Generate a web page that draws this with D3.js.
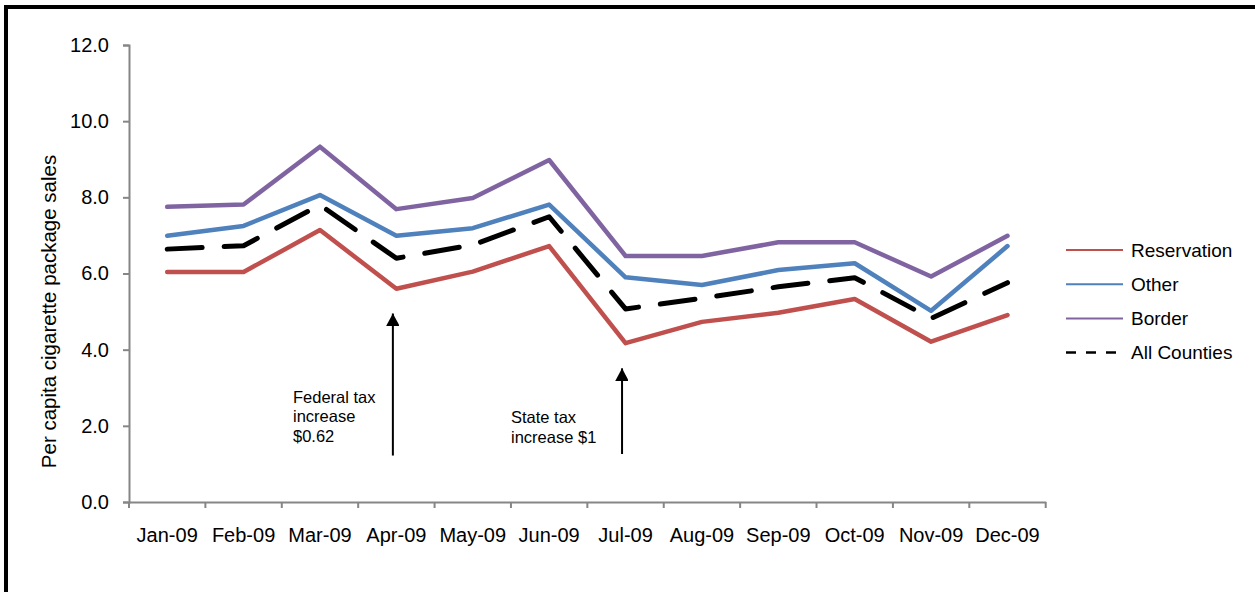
<!DOCTYPE html>
<html>
<head>
<meta charset="utf-8">
<script src="https://cdn.jsdelivr.net/npm/d3@7"></script>
<style>
  html, body { margin: 0; padding: 0; background: #fff; }
  svg { display: block; font-family: "Liberation Sans", Arial, sans-serif; }
</style>
</head>
<body>
<svg id="chart" width="1255" height="592"></svg>
<script>
// Monthly per capita cigarette package sales, 2009
const months = ["Jan-09","Feb-09","Mar-09","Apr-09","May-09","Jun-09",
                "Jul-09","Aug-09","Sep-09","Oct-09","Nov-09","Dec-09"];
const reservation = [6.04, 6.04, 7.14, 5.60, 6.05, 6.72, 4.17, 4.73, 4.97, 5.33, 4.21, 4.91];
const other       = [6.99, 7.25, 8.06, 6.99, 7.19, 7.81, 5.90, 5.70, 6.09, 6.27, 5.02, 6.72];
const border      = [7.75, 7.81, 9.33, 7.69, 7.98, 8.98, 6.46, 6.46, 6.82, 6.82, 5.92, 6.99];
const allCounties = [6.64, 6.73, 7.80, 6.40, 6.75, 7.49, 5.07, 5.35, 5.65, 5.89, 4.82, 5.76];
const yTicks = [0, 2, 4, 6, 8, 10, 12];

const seriesNames = ["Reservation", "Other", "Border", "All Counties"];

// Tax-increase annotations: month, arrow base and tip values, label lines
const annotMonths = ["Apr-09", "Jul-09"];
const annotBase   = [1.22, 1.26];
const annotTip    = [4.95, 3.51];
const annotLabels = [["Federal tax", "increase", "$0.62"], ["State tax", "increase $1"]];

const series = [
  { name: seriesNames[0], values: reservation, color: "#C0504D", dash: null },
  { name: seriesNames[1], values: other,       color: "#4F81BD", dash: null },
  { name: seriesNames[2], values: border,      color: "#8064A2", dash: null },
  { name: seriesNames[3], values: allCounties, color: "#000000", dash: "35,22" }
];

const svg = d3.select("#chart");
const W = 1255, H = 592;
const plot = { left: 129, right: 1045.7, top: 45, bottom: 502 };

svg.append("rect").attr("width", W).attr("height", H).attr("fill", "#fff");

// frame (top and left edges)
svg.append("rect").attr("x", 4).attr("y", 5).attr("width", W - 4).attr("height", 4).attr("fill", "#000");
svg.append("rect").attr("x", 4).attr("y", 5).attr("width", 4).attr("height", H - 5).attr("fill", "#000");

const x = d3.scaleBand().domain(months).range([plot.left, plot.right]).padding(0);
const y = d3.scaleLinear().domain([0, 12]).range([plot.bottom, plot.top]);
const cx = m => x(m) + x.bandwidth() / 2;

const axisColor = "#868686";

// y axis
const yAxis = svg.append("g")
  .attr("transform", `translate(${plot.left},0)`)
  .call(d3.axisLeft(y).tickValues(yTicks).tickFormat(d3.format(".1f")).tickSize(6).tickPadding(14));
yAxis.select(".domain").attr("stroke", axisColor).attr("stroke-width", 2);
yAxis.selectAll(".tick line").attr("stroke", axisColor).attr("stroke-width", 2);
yAxis.selectAll(".tick text").attr("fill", "#000").attr("font-size", 20)
  .attr("font-family", "Liberation Sans, Arial, sans-serif");

// x axis: labels centred in each band, tick marks on band edges
const xAxis = svg.append("g")
  .attr("transform", `translate(0,${plot.bottom})`)
  .call(d3.axisBottom(x).tickSize(0).tickPadding(26));
xAxis.select(".domain").attr("stroke", axisColor).attr("stroke-width", 2);
xAxis.selectAll(".tick text").attr("fill", "#000").attr("font-size", 20)
  .attr("font-family", "Liberation Sans, Arial, sans-serif");
const edges = months.map(m => x(m)).concat([plot.right]);
xAxis.selectAll("line.edge").data(edges).join("line")
  .attr("class", "edge")
  .attr("x1", d => d).attr("x2", d => d)
  .attr("y1", 0).attr("y2", 6)
  .attr("stroke", axisColor).attr("stroke-width", 2);

// y axis title
svg.append("text")
  .attr("transform", `translate(56,${(plot.top + plot.bottom) / 2 + 38}) rotate(-90)`)
  .attr("text-anchor", "middle")
  .attr("font-size", 20.5)
  .attr("fill", "#000")
  .text("Per capita cigarette package sales");

// series lines
const line = d3.line().x((d, i) => cx(months[i])).y(d => y(d));
svg.append("g").selectAll("path").data(series).join("path")
  .attr("d", s => line(s.values))
  .attr("fill", "none")
  .attr("stroke", s => s.color)
  .attr("stroke-width", s => s.dash ? 5 : 4.5)
  .attr("stroke-dasharray", s => s.dash)
  .attr("stroke-linecap", "round")
  .attr("stroke-linejoin", "round");

// annotation arrows and labels
svg.append("defs").append("marker")
  .attr("id", "arrowhead")
  .attr("viewBox", "0 0 14 13")
  .attr("refX", 13).attr("refY", 7)
  .attr("markerWidth", 14).attr("markerHeight", 13)
  .attr("markerUnits", "userSpaceOnUse")
  .attr("orient", "auto")
  .append("path").attr("d", "M0,0 L13,7 L0,14 Z").attr("fill", "#000");

annotMonths.forEach((m, i) => {
  const ax = cx(m) - 3.5;
  svg.append("line")
    .attr("x1", ax).attr("x2", ax)
    .attr("y1", y(annotBase[i])).attr("y2", y(annotTip[i]))
    .attr("stroke", "#000").attr("stroke-width", 2)
    .attr("marker-end", "url(#arrowhead)");
});

const labelPos = [{ x: 293, y: 403, lh: 19.3 }, { x: 511, y: 422.7, lh: 20.6 }];
annotLabels.forEach((lines, i) => {
  const t = svg.append("text")
    .attr("x", labelPos[i].x).attr("y", labelPos[i].y)
    .attr("font-size", 16.5).attr("fill", "#000");
  lines.forEach((l, j) => {
    t.append("tspan").attr("x", labelPos[i].x).attr("y", labelPos[i].y + j * labelPos[i].lh).text(l);
  });
});

// legend
const legend = svg.append("g").attr("transform", "translate(1066,250)");
const rows = legend.selectAll("g").data(series).join("g")
  .attr("transform", (d, i) => `translate(0,${i * 34.2})`);
rows.append("line")
  .attr("x1", 0).attr("x2", 57).attr("y1", 0).attr("y2", 0)
  .attr("stroke", d => d.color)
  .attr("stroke-width", d => d.dash ? 2.5 : 2)
  .attr("stroke-dasharray", d => d.dash ? "10,10" : null);
rows.append("text")
  .attr("x", 65).attr("y", 0).attr("dy", "0.36em")
  .attr("font-size", 19).attr("fill", "#000")
  .text(d => d.name);
</script>
</body>
</html>
